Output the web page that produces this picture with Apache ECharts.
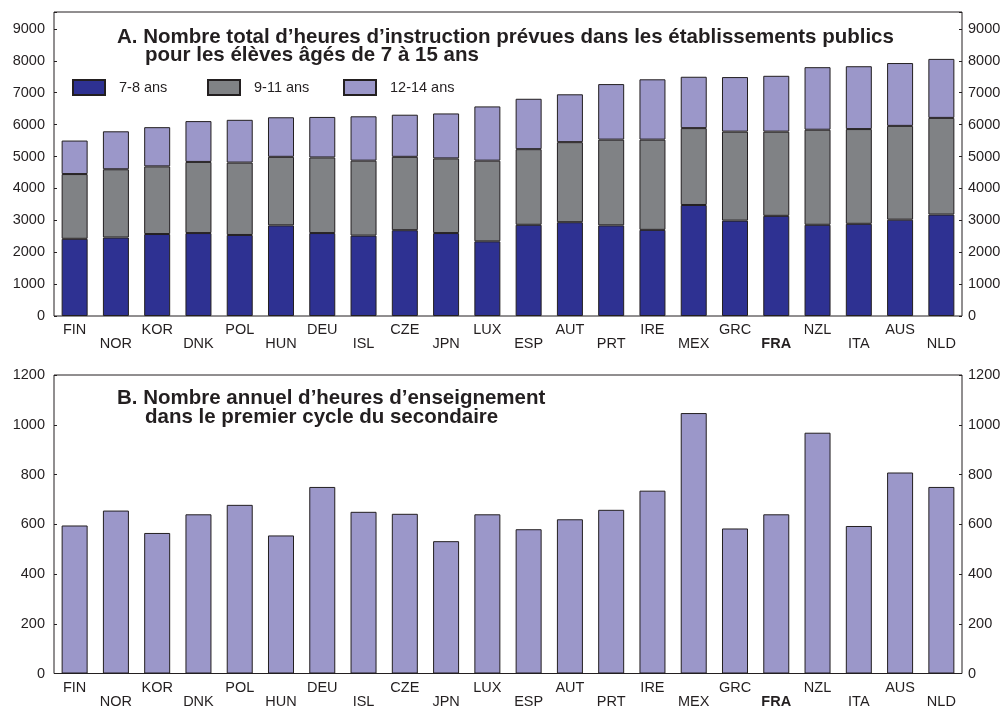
<!DOCTYPE html>
<html>
<head>
<meta charset="utf-8">
<script src="https://cdn.jsdelivr.net/npm/echarts@6/dist/echarts.min.js"></script>
<style>
    html, body { margin: 0; padding: 0; background: #fff; }
    #chart { width: 1005px; height: 709px; }
</style>
</head>
<body>
<div id="chart"></div>
<script>
var countries = ['FIN', 'NOR', 'KOR', 'DNK', 'POL', 'HUN', 'DEU', 'ISL', 'CZE', 'JPN', 'LUX',
    'ESP', 'AUT', 'PRT', 'IRE', 'MEX', 'GRC', 'FRA', 'NZL', 'ITA', 'AUS', 'NLD'];

// A. heures d'instruction par tranche d'age (empilees)
var ages78 = [2420, 2460, 2570, 2600, 2540, 2840, 2600, 2520, 2690, 2600, 2340,
    2860, 2940, 2840, 2700, 3480, 2990, 3140, 2860, 2890, 3020, 3180];
var ages911 = [2030, 2140, 2120, 2230, 2270, 2150, 2370, 2350, 2300, 2340, 2530,
    2370, 2510, 2690, 2830, 2410, 2790, 2640, 2980, 2970, 2940, 3030];
var ages1214 = [1050, 1190, 1230, 1280, 1340, 1240, 1270, 1390, 1320, 1410, 1700,
    1580, 1500, 1740, 1890, 1610, 1710, 1750, 1960, 1970, 1970, 1850];

// B. heures d'enseignement, premier cycle du secondaire
var secondaire = [595, 655, 565, 640, 678, 555, 750, 650, 642, 532, 640,
    580, 620, 658, 735, 1047, 583, 640, 968, 593, 808, 750];

var seriesNames = ['7-8 ans', '9-11 ans', '12-14 ans'];
var topTicks = [0, 1000, 2000, 3000, 4000, 5000, 6000, 7000, 8000, 9000];
var bottomTicks = [0, 200, 400, 600, 800, 1000, 1200];

var FONT = 'Liberation Sans, Arial, Helvetica, sans-serif';
var INK = '#231f20';
var colors = ['#2e3192', '#808285', '#9b97c9'];

function catAxis(gridIndex) {
    return {
        type: 'category',
        gridIndex: gridIndex,
        data: countries,
        axisLine: { show: false },
        axisTick: { show: true, inside: true, length: 3, alignWithLabel: true, lineStyle: { color: INK } },
        axisLabel: {
            interval: 0,
            margin: 7,
            color: INK,
            fontFamily: FONT,
            fontSize: 14.5,
            lineHeight: 14,
            formatter: function (value, index) {
                var txt = value === 'FRA' ? '{b|' + value + '}' : value;
                return index % 2 ? '\n' + txt : txt;
            },
            rich: {
                b: { fontWeight: 'bold', fontFamily: FONT, fontSize: 14.5, lineHeight: 14, color: INK }
            }
        },
        splitLine: { show: false }
    };
}

function valAxis(gridIndex, side, ticks, max) {
    var step = ticks[1] - ticks[0];
    return {
        type: 'value',
        gridIndex: gridIndex,
        position: side,
        min: 0,
        max: max,
        interval: step,
        axisLine: { show: false },
        axisTick: { show: true, inside: true, length: 3, lineStyle: { color: INK } },
        axisLabel: {
            margin: side === 'left' ? 9 : 6,
            color: INK,
            fontFamily: FONT,
            fontSize: 14.5,
            formatter: function (v) {
                return ticks.indexOf(v) >= 0 ? String(v) : '';
            }
        },
        splitLine: { show: false }
    };
}

function legendItem(name, left) {
    return {
        data: [name],
        left: left,
        top: 79,
        padding: 0,
        icon: 'rect',
        itemWidth: 32,
        itemHeight: 15,
        selectedMode: false,
        textStyle: { color: INK, fontFamily: FONT, fontSize: 14.5, padding: [0, 0, 0, 9] }
    };
}

function titleLine(text, left, top) {
    return {
        text: text,
        left: left,
        top: top,
        padding: 0,
        textStyle: { color: INK, fontFamily: FONT, fontSize: 20.5, fontWeight: 'bold' }
    };
}

function barStyle(color) {
    return { color: color, borderColor: INK, borderWidth: 1 };
}

var chart = echarts.init(document.getElementById('chart'), null, { renderer: 'canvas' });

var option = {
    backgroundColor: '#fff',
    animation: false,
    title: [
        titleLine('A. Nombre total d\u2019heures d\u2019instruction pr\u00e9vues dans les \u00e9tablissements publics', 117, 27),
        titleLine('pour les \u00e9l\u00e8ves \u00e2g\u00e9s de 7 \u00e0 15 ans', 145, 45),
        titleLine('B. Nombre annuel d\u2019heures d\u2019enseignement', 117, 388),
        titleLine('dans le premier cycle du secondaire', 145, 407)
    ],
    legend: [
        legendItem(seriesNames[0], 72),
        legendItem(seriesNames[1], 207),
        legendItem(seriesNames[2], 343)
    ],
    grid: [
        { left: 54, right: 43, top: 12, height: 304, show: true, borderColor: INK, borderWidth: 1, backgroundColor: 'transparent' },
        { left: 54, right: 43, top: 375, height: 302, show: true, borderColor: INK, borderWidth: 1, backgroundColor: 'transparent' }
    ],
    xAxis: [catAxis(0), catAxis(1)],
    yAxis: [
        valAxis(0, 'left', topTicks, 9530),
        valAxis(0, 'right', topTicks, 9530),
        valAxis(1, 'left', bottomTicks, 1200),
        valAxis(1, 'right', bottomTicks, 1200)
    ],
    series: [
        { name: seriesNames[0], type: 'bar', stack: 'heures', xAxisIndex: 0, yAxisIndex: 0,
          barWidth: '63%', itemStyle: barStyle(colors[0]), data: ages78 },
        { name: seriesNames[1], type: 'bar', stack: 'heures', xAxisIndex: 0, yAxisIndex: 0,
          barWidth: '63%', itemStyle: barStyle(colors[1]), data: ages911 },
        { name: seriesNames[2], type: 'bar', stack: 'heures', xAxisIndex: 0, yAxisIndex: 0,
          barWidth: '63%', itemStyle: barStyle(colors[2]), data: ages1214 },
        { name: 'secondaire', type: 'bar', xAxisIndex: 1, yAxisIndex: 2,
          barWidth: '63%', itemStyle: barStyle(colors[2]), data: secondaire }
    ]
};
chart.setOption(option);
</script>
</body>
</html>
